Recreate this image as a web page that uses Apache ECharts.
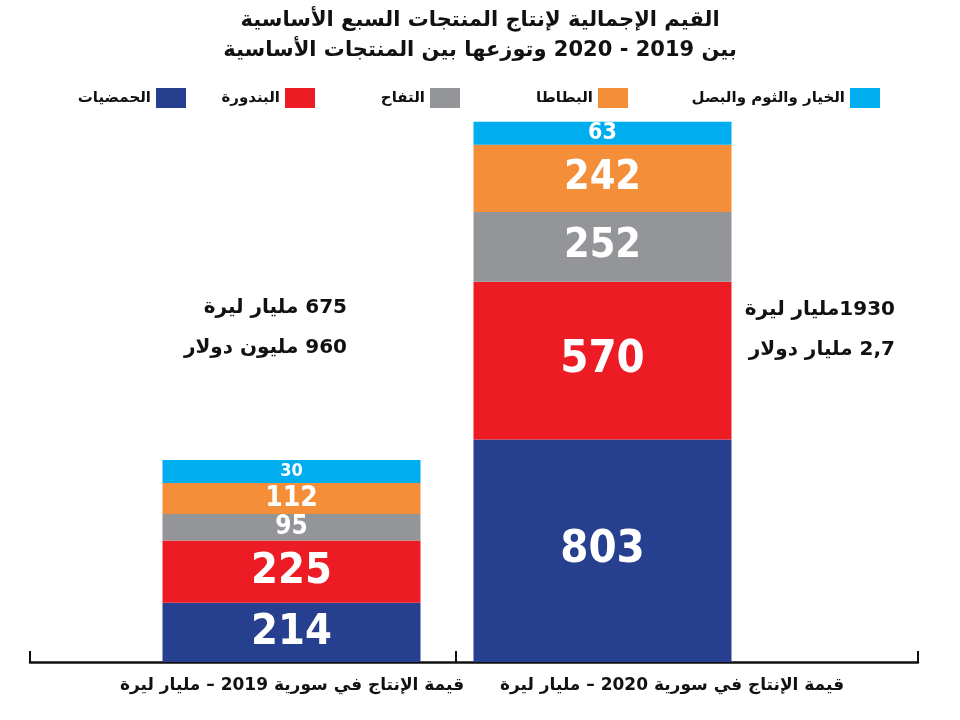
<!DOCTYPE html>
<html>
<head>
<meta charset="utf-8">
<script src="https://cdn.jsdelivr.net/npm/echarts@6/dist/echarts.min.js"></script>
<style>
  html, body { margin: 0; padding: 0; background: #fff; }
  #main { width: 960px; height: 720px; }
</style>
</head>
<body>
<div id="main" dir="rtl"></div>
<script>
// data
const years = ['2019', '2020'];
const axisNames = ['قيمة الإنتاج في سورية 2019 – مليار ليرة', 'قيمة الإنتاج في سورية 2020 – مليار ليرة'];
const products = ['الحمضيات', 'البندورة', 'التفاح', 'البطاطا', 'الخيار والثوم والبصل'];
const citrus = [214, 803];
const tomato = [225, 570];
const apple = [95, 252];
const potato = [112, 242];
const veg = [30, 63];
const totalsLira = ['675 مليار ليرة', '1930مليار ليرة'];
const totalsUsd = ['960 مليون دولار', '2,7 مليار دولار'];

const arFont = '"DejaVu Sans", sans-serif';
const numFont = '"DejaVu Sans Condensed", "Liberation Sans Narrow", "DejaVu Sans", sans-serif';
const colors = ['#263f8e', '#ed1c24', '#939598', '#f48e38', '#00aeef'];
// label size per segment, [2019, 2020]
const labelSizes = [[43, 45], [43, 45], [26, 41], [28, 41], [18, 23]];
// distance from the right edge of the page to each legend swatch
const legendRight = [769, 640, 495, 327, 75];

const values = [citrus, tomato, apple, potato, veg];

const chart = echarts.init(document.getElementById('main'));

const series = products.map((name, i) => ({
  name: name,
  type: 'bar',
  stack: 'total',
  barWidth: 258,
  barMinHeight: i === 4 ? 23 : 0,
  itemStyle: { color: colors[i] },
  data: values[i].map((v, j) => ({
    value: v,
    label: { fontSize: labelSizes[i][j] }
  })),
  label: {
    show: true,
    position: 'inside',
    color: '#fff',
    fontWeight: 'bold',
    fontFamily: numFont
  }
}));

const legends = products.map((name, i) => ({
  data: [name],
  right: legendRight[i],
  top: 83,
  align: 'right',
  itemWidth: 30,
  itemHeight: 20,
  icon: 'rect',
  selectedMode: false,
  textStyle: { fontFamily: arFont, fontSize: 15, fontWeight: 'bold', color: '#111' }
}));

const option = {
  backgroundColor: '#fff',
  title: {
    text: 'القيم الإجمالية لإنتاج المنتجات السبع الأساسية\nبين 2019 - 2020 وتوزعها بين المنتجات الأساسية',
    left: 'center',
    top: 1,
    textStyle: {
      fontFamily: arFont,
      fontSize: 21,
      fontWeight: 'bold',
      lineHeight: 30,
      color: '#111'
    }
  },
  legend: legends,
  grid: [
    { left: 136, right: 202, top: 108, bottom: 58 },
    { left: 30, right: 42, top: 108, bottom: 58 },
    { left: 102, right: 98, top: 108, bottom: 58 }
  ],
  xAxis: [
    {
      type: 'category',
      gridIndex: 0,
      data: years,
      axisLine: { show: false },
      axisTick: { show: false },
      axisLabel: { show: false }
    },
    {
      type: 'value',
      gridIndex: 1,
      min: 0,
      max: 1,
      splitLine: { show: false },
      axisLabel: { show: false },
      axisLine: { show: true, onZero: false, lineStyle: { color: '#111', width: 2.5 } },
      axisTick: {
        show: true,
        inside: true,
        length: 11,
        customValues: [0, 0.479, 1],
        lineStyle: { color: '#111', width: 2 }
      }
    },
    {
      type: 'category',
      gridIndex: 2,
      data: axisNames,
      axisLine: { show: false },
      axisTick: { show: false },
      axisLabel: {
        interval: 0,
        hideOverlap: false,
        margin: 15,
        color: '#111',
        fontFamily: arFont,
        fontSize: 17,
        fontWeight: 'bold'
      }
    }
  ],
  yAxis: [
    { type: 'value', gridIndex: 0, min: 0, max: 2000, show: false },
    { type: 'value', gridIndex: 1, min: 0, max: 1, show: false },
    { type: 'value', gridIndex: 2, min: 0, max: 1, show: false }
  ],
  graphic: [
    {
      type: 'text',
      right: 960 - 347,
      top: 288,
      style: {
        text: totalsLira[0] + '\n' + totalsUsd[0],
        fill: '#111',
        font: 'bold 20px ' + arFont,
        lineHeight: 40,
        textAlign: 'right'
      }
    },
    {
      type: 'text',
      right: 960 - 895,
      top: 290,
      style: {
        text: totalsLira[1] + '\n' + totalsUsd[1],
        fill: '#111',
        font: 'bold 20px ' + arFont,
        lineHeight: 40,
        textAlign: 'right'
      }
    }
  ],
  series: series
};

chart.setOption(option);
</script>
</body>
</html>
